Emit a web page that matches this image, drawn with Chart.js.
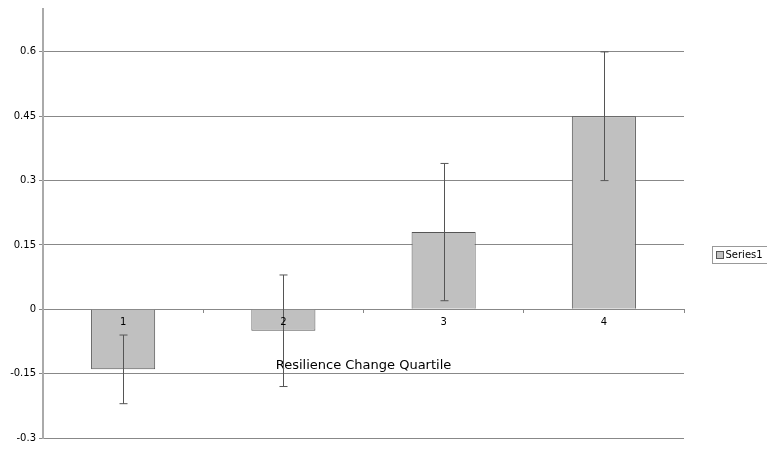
<!DOCTYPE html>
<html>
<head>
<meta charset="utf-8">
<script src="https://cdn.jsdelivr.net/npm/chart.js@4"></script>
<style>
  html, body { margin: 0; padding: 0; background: #fff; }
  #wrap { width: 767px; height: 450px; }
</style>
</head>
<body>
<div id="wrap"><canvas id="chart"></canvas></div>
<script>
// chart data
const quartiles = ['1', '2', '3', '4'];
const meanChange = [-0.14, -0.05, 0.18, 0.45];
const errHigh = [-0.06, 0.08, 0.34, 0.60];
const errLow = [-0.22, -0.18, 0.02, 0.30];
const yTicks = [-0.3, -0.15, 0, 0.15, 0.3, 0.45, 0.6];
const seriesName = 'Series1';

const FONT = 'DejaVu Sans';

// draws the error bars on top of each bar
const errorBars = {
    id: 'errorBars',
    afterDatasetsDraw(chart) {
        const ctx = chart.ctx;
        const x = chart.scales.x;
        const y = chart.scales.y;
        ctx.save();
        ctx.strokeStyle = '#555';
        ctx.lineWidth = 1;
        quartiles.forEach((q, i) => {
            const px = Math.round(x.getPixelForValue(i)) + 0.5;
            const top = y.getPixelForValue(errHigh[i]);
            const bot = y.getPixelForValue(errLow[i]);
            ctx.beginPath();
            ctx.moveTo(px, top);
            ctx.lineTo(px, bot);
            ctx.moveTo(px - 4, top);
            ctx.lineTo(px + 4, top);
            ctx.moveTo(px - 4, bot);
            ctx.lineTo(px + 4, bot);
            ctx.stroke();
        });
        ctx.restore();
    }
};

// boxed legend on the right
const boxLegend = {
    id: 'boxLegend',
    afterDraw(chart) {
        const ctx = chart.ctx;
        ctx.save();
        ctx.font = '10px ' + FONT;
        const bx = 712.5, by = 246.5;
        const w = ctx.measureText(seriesName).width + 20, h = 17;
        ctx.strokeStyle = '#999';
        ctx.lineWidth = 1;
        ctx.strokeRect(bx, by, w, h);
        ctx.fillStyle = '#c0c0c0';
        ctx.fillRect(bx + 4, by + 5, 7, 7);
        ctx.strokeStyle = '#555';
        ctx.strokeRect(bx + 4, by + 5, 7, 7);
        ctx.fillStyle = '#000';
        ctx.textBaseline = 'middle';
        ctx.fillText(seriesName, bx + 13, by + h / 2 + 0.5);
        ctx.restore();
    }
};

new Chart(document.getElementById('chart'), {
    type: 'bar',
    data: {
        labels: quartiles,
        datasets: [{
            label: seriesName,
            data: meanChange,
            backgroundColor: '#c0c0c0',
            borderColor: '#555',
            borderWidth: 1,
            barPercentage: 0.4,
            categoryPercentage: 1
        }]
    },
    options: {
        responsive: true,
        maintainAspectRatio: false,
        animation: false,
        layout: { padding: { top: 8, right: 83, bottom: 12, left: 0 } },
        plugins: {
            legend: { display: false },
            tooltip: { enabled: false }
        },
        scales: {
            x: {
                position: { y: 0 },
                grid: { display: true, drawOnChartArea: false, offset: true, tickLength: 3, color: '#888' },
                border: { display: true, color: '#888' },
                // z: 1 keeps labels 1 and 2 visible over the bars
                ticks: { z: 1, color: '#000', font: { family: FONT, size: 10 }, padding: 4 },
                title: {
                    display: true,
                    text: 'Resilience Change Quartile',
                    color: '#000',
                    font: { family: FONT, size: 13 },
                    padding: { top: 26 }
                }
            },
            y: {
                min: -0.3,
                max: 0.7,
                afterBuildTicks(scale) {
                    scale.ticks = yTicks.map(v => ({ value: v }));
                },
                afterFit(scale) { scale.width = 43; },
                grid: { color: '#888', tickLength: 4 },
                border: { color: '#aaa', width: 2 },
                ticks: {
                    color: '#000',
                    font: { family: FONT, size: 10 },
                    padding: 3,
                    callback: v => String(Number(v.toFixed(2)))
                }
            }
        }
    },
    plugins: [errorBars, boxLegend]
});
</script>
</body>
</html>
